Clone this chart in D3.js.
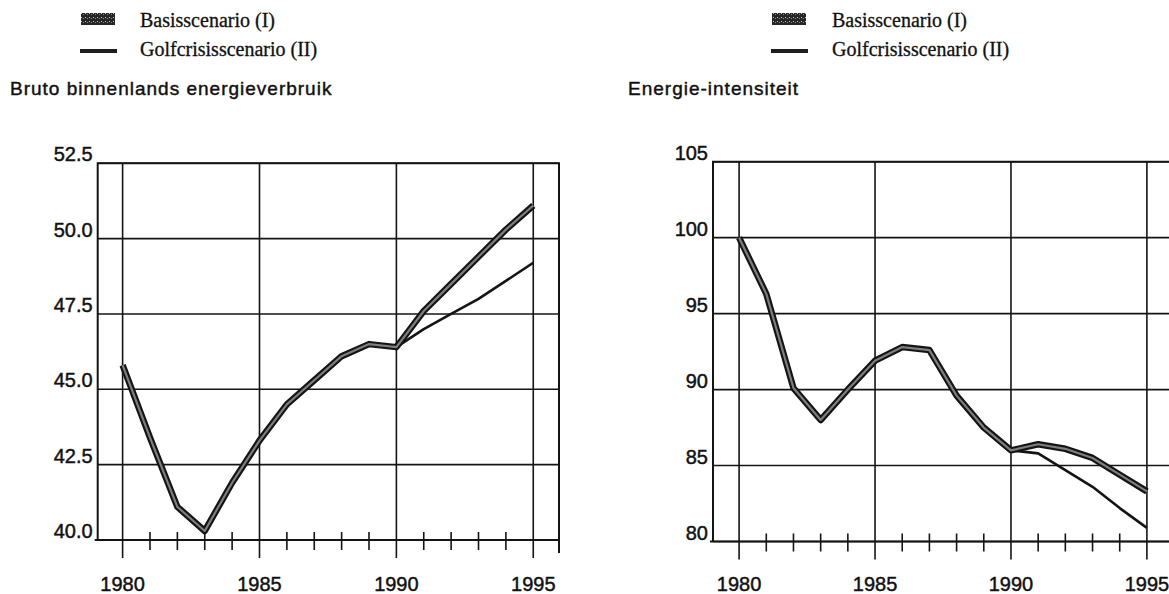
<!DOCTYPE html>
<html>
<head>
<meta charset="utf-8">
<script src="https://cdn.jsdelivr.net/npm/d3@7"></script>
<style>
  body { margin: 0; background: #fff; }
  svg { display: block; }
  .tick-label { font-family: "Liberation Sans", Arial, sans-serif; font-size: 20px; fill: #111; stroke: #111; stroke-width: 0.45px; }
  .title { font-family: "Liberation Sans", Arial, sans-serif; font-size: 19px; letter-spacing: 1px; fill: #111; stroke: #111; stroke-width: 0.45px; }
  .legend-text { font-family: "Liberation Serif", "Times New Roman", serif; font-size: 20px; fill: #111; stroke: #111; stroke-width: 0.3px; }
</style>
</head>
<body>
<svg id="chart" width="1169" height="594"></svg>
<script>
// categories
const years = [1980, 1981, 1982, 1983, 1984, 1985, 1986, 1987, 1988, 1989, 1990, 1991, 1992, 1993, 1994, 1995];
const yearLabels = [1980, 1985, 1990, 1995];
const seriesNames = ["Basisscenario (I)", "Golfcrisisscenario (II)"];

// Bruto binnenlands energieverbruik
const verbruikTicks = [40, 42.5, 45, 47.5, 50, 52.5];
const verbruikBasis = [45.8, 43.4, 41.1, 40.3, 41.9, 43.3, 44.5, 45.3, 46.1, 46.5, 46.4, 47.6, 48.5, 49.4, 50.3, 51.1];
const verbruikGolf  = [45.8, 43.4, 41.1, 40.3, 41.9, 43.3, 44.5, 45.3, 46.1, 46.5, 46.4, 47.0, 47.5, 48.0, 48.6, 49.2];

// Energie-intensiteit
const intensiteitTicks = [80, 85, 90, 95, 100, 105];
const intensiteitBasis = [100, 96.3, 90.1, 88.0, 90.0, 91.9, 92.8, 92.6, 89.6, 87.5, 86.0, 86.4, 86.1, 85.5, 84.4, 83.3];
const intensiteitGolf  = [100, 96.3, 90.1, 88.0, 90.0, 91.9, 92.8, 92.6, 89.6, 87.5, 86.0, 85.8, 84.7, 83.6, 82.2, 80.9];

const svg = d3.select("#chart");
const ink = "#141414";

// stipple fill for the Basisscenario legend block
const pat = svg.append("defs").append("pattern")
    .attr("id", "stipple")
    .attr("width", 4).attr("height", 4)
    .attr("patternUnits", "userSpaceOnUse");
pat.append("rect").attr("width", 4).attr("height", 4).attr("fill", "#262626");
pat.append("rect").attr("x", 1).attr("y", 1).attr("width", 1).attr("height", 1).attr("fill", "#c8c8c8");
pat.append("rect").attr("x", 3).attr("y", 2).attr("width", 1).attr("height", 1).attr("fill", "#8a8a8a");

function drawPanel(cfg) {
    const g = svg.append("g");

    // legend
    g.append("rect")
        .attr("x", cfg.swatchX).attr("y", 13)
        .attr("width", 34).attr("height", 12)
        .attr("fill", "url(#stipple)");
    g.append("rect")
        .attr("x", cfg.swatchX - 1).attr("y", 49)
        .attr("width", 37).attr("height", 4)
        .attr("fill", "#1e1e1e");
    g.selectAll(".legend-text")
        .data(seriesNames)
        .enter()
        .append("text")
        .attr("class", "legend-text")
        .attr("x", cfg.textX)
        .attr("y", (d, i) => i === 0 ? 27 : 56)
        .text(d => d);

    g.append("text")
        .attr("class", "title")
        .attr("x", cfg.titleX).attr("y", 95)
        .text(cfg.title);

    const x = d3.scaleLinear().domain(cfg.xDomain).range([cfg.left, cfg.right]);
    const y = d3.scaleLinear().domain(d3.extent(cfg.yTicks)).range([cfg.bottom, cfg.top]);

    // horizontal grid lines
    g.selectAll(".hgrid")
        .data(cfg.yTicks)
        .enter()
        .append("line")
        .attr("x1", cfg.left).attr("x2", cfg.right)
        .attr("y1", d => y(d)).attr("y2", d => y(d))
        .attr("stroke", ink).attr("stroke-width", 1.6);

    // y labels
    g.selectAll(".ylab")
        .data(cfg.yTicks)
        .enter()
        .append("text")
        .attr("class", "tick-label")
        .attr("x", cfg.left - 5)
        .attr("y", d => y(d) - 2)
        .attr("text-anchor", "end")
        .text(d => cfg.format(d));

    // yearly minor ticks
    g.selectAll(".minor")
        .data(years.filter(yr => !yearLabels.includes(yr)))
        .enter()
        .append("line")
        .attr("x1", d => x(d)).attr("x2", d => x(d))
        .attr("y1", cfg.bottom - 8).attr("y2", cfg.bottom + 10)
        .attr("stroke", ink).attr("stroke-width", 1.6);

    // vertical grid lines at labelled years
    g.selectAll(".vgrid")
        .data(yearLabels)
        .enter()
        .append("line")
        .attr("x1", d => x(d)).attr("x2", d => x(d))
        .attr("y1", cfg.top).attr("y2", cfg.bottom + 18)
        .attr("stroke", ink).attr("stroke-width", 1.6);

    g.selectAll(".xlab")
        .data(yearLabels)
        .enter()
        .append("text")
        .attr("class", "tick-label")
        .attr("x", d => x(d))
        .attr("y", 591)
        .attr("text-anchor", "middle")
        .text(d => d);

    // frame
    g.append("path")
        .attr("d", `M${cfg.left},${cfg.bottom} V${cfg.top} H${cfg.right} V${cfg.bottom + 13}`)
        .attr("fill", "none").attr("stroke", ink).attr("stroke-width", 2);
    g.append("line")
        .attr("x1", cfg.left - 3).attr("x2", cfg.right)
        .attr("y1", cfg.bottom).attr("y2", cfg.bottom)
        .attr("stroke", ink).attr("stroke-width", 2);

    const line = d3.line()
        .x((d, i) => x(years[i]))
        .y(d => y(d));

    g.append("path")
        .datum(cfg.golf)
        .attr("d", line)
        .attr("fill", "none")
        .attr("stroke", ink)
        .attr("stroke-width", 2.6)
        .attr("stroke-linejoin", "round");

    g.append("path")
        .datum(cfg.basis)
        .attr("d", line)
        .attr("fill", "none")
        .attr("stroke", ink)
        .attr("stroke-width", 6.5)
        .attr("stroke-linejoin", "round");
    g.append("path")
        .datum(cfg.basis)
        .attr("d", line)
        .attr("fill", "none")
        .attr("stroke", "#7e7e7e")
        .attr("stroke-width", 2.2)
        .attr("stroke-linejoin", "round");
}

drawPanel({
    title: "Bruto binnenlands energieverbruik",
    titleX: 10, swatchX: 81, textX: 140,
    left: 97.7, right: 559, top: 163.3, bottom: 540,
    xDomain: [1979.09, 1995.94],
    yTicks: verbruikTicks,
    format: d3.format(".1f"),
    basis: verbruikBasis,
    golf: verbruikGolf
});

drawPanel({
    title: "Energie-intensiteit",
    titleX: 628, swatchX: 772, textX: 832,
    left: 713, right: 1173, top: 161.7, bottom: 541.5,
    xDomain: [1979.04, 1995.96],
    yTicks: intensiteitTicks,
    format: d3.format("d"),
    basis: intensiteitBasis,
    golf: intensiteitGolf
});
</script>
</body>
</html>
